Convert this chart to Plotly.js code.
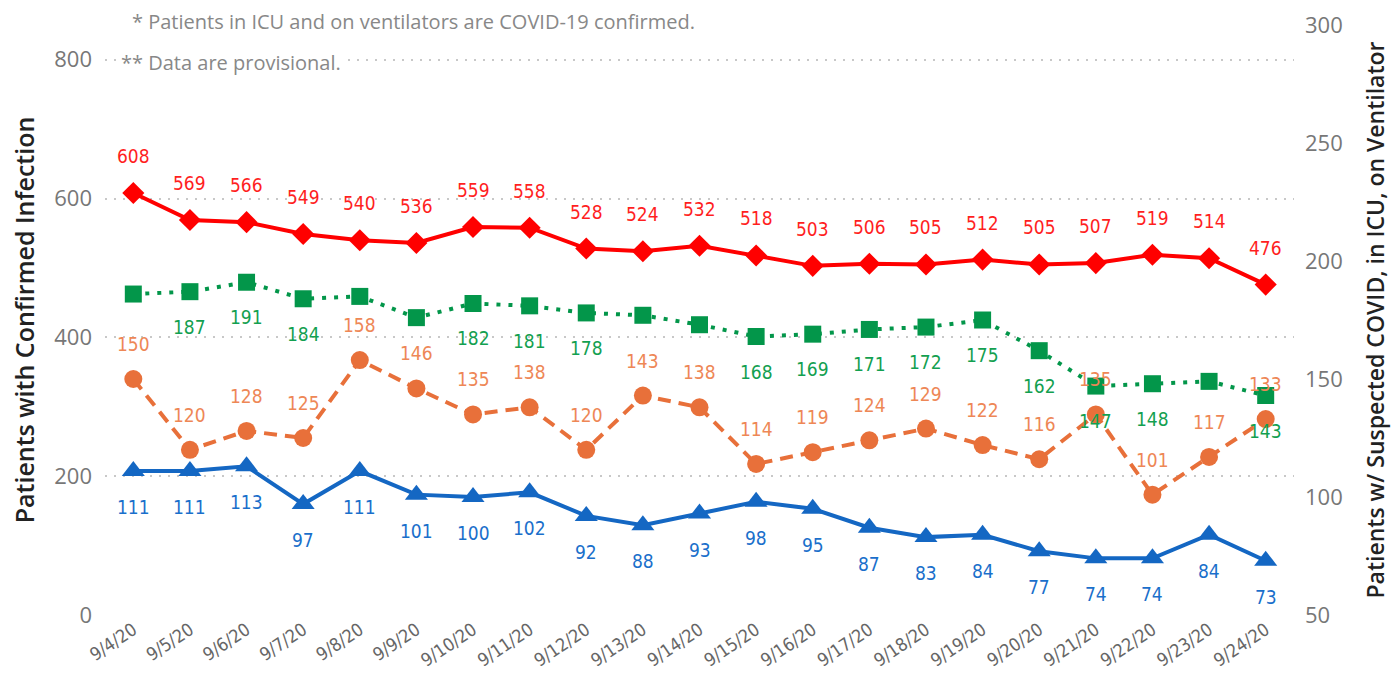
<!DOCTYPE html>
<html>
<head>
<meta charset="utf-8">
<script src="https://cdn.plot.ly/plotly-3.0.1.min.js"></script>
<style>html,body{margin:0;padding:0;background:#fff;}#chart{width:1393px;height:675px;}</style>
</head>
<body>
<div id="chart"></div>
<script>
const dates = ['9/4/20','9/5/20','9/6/20','9/7/20','9/8/20','9/9/20','9/10/20','9/11/20','9/12/20','9/13/20','9/14/20','9/15/20','9/16/20','9/17/20','9/18/20','9/19/20','9/20/20','9/21/20','9/22/20','9/23/20','9/24/20'];
const confirmed = [608,569,566,549,540,536,559,558,528,524,532,518,503,506,505,512,505,507,519,514,476];
const suspected = [186,187,191,184,185,176,182,181,178,177,173,168,169,171,172,175,162,147,148,149,143];
const icu = [150,120,128,125,158,146,135,138,120,143,138,114,119,124,129,122,116,135,101,117,133];
const ventilator = [111,111,113,97,111,101,100,102,92,88,93,98,95,87,83,84,77,74,74,84,73];
// labels not drawn in the original (overlap hidden)
const suspectedHiddenLabels = ['9/4/20','9/8/20','9/9/20','9/13/20','9/14/20','9/23/20'];
const noteLines = ['* Patients in ICU and on ventilators are COVID-19 confirmed.', '** Data are provisional.'];

const RED = '#FF0000', GREEN = '#03964A', ORANGE = '#E8703A', BLUE = '#1467C3';
const labelFont = 'DejaVu Sans Condensed, DejaVu Sans, sans-serif';

const traces = [
  {x: dates, y: icu, yaxis: 'y2', name: 'ICU', mode: 'lines+markers',
   line: {color: ORANGE, width: 4, dash: '13px,8px'}, marker: {symbol: 'circle', size: 18, color: ORANGE}},
  {x: dates, y: ventilator, yaxis: 'y2', name: 'Ventilator', mode: 'lines+markers',
   line: {color: BLUE, width: 4}, marker: {symbol: 'triangle-up', size: 20, color: BLUE}},
  {x: dates, y: suspected, yaxis: 'y2', name: 'Suspected', mode: 'lines+markers',
   line: {color: GREEN, width: 4, dash: '4px,8px'}, marker: {symbol: 'square', size: 17, color: GREEN}},
  {x: dates, y: confirmed, yaxis: 'y', name: 'Confirmed', mode: 'lines+markers',
   line: {color: RED, width: 4}, marker: {symbol: 'diamond', size: 17, color: RED}}
];

const annotations = [];
function addLabels(vals, yref, color, shift, hidden) {
  vals.forEach((v, i) => {
    if (hidden && hidden.includes(dates[i])) return;
    annotations.push({x: dates[i], y: v, xref: 'x', yref: yref, text: String(v), showarrow: false,
      yshift: shift, font: {family: labelFont, size: 19, color: color}});
  });
}
addLabels(confirmed, 'y', '#FF1F1F', 37);
addLabels(suspected, 'y2', '#13A050', -35, suspectedHiddenLabels);
addLabels(icu, 'y2', '#EE8756', 35);
addLabels(ventilator, 'y2', '#1A6FCB', -36);

annotations.push({xref: 'paper', yref: 'paper', x: (130-105)/1189, y: (615-22)/590, xanchor: 'left', yanchor: 'middle',
  text: noteLines[0], showarrow: false, font: {family: 'Open Sans, sans-serif', size: 20, color: '#888'}});
annotations.push({xref: 'paper', yref: 'paper', x: (119-105)/1189, y: (615-62)/590, xanchor: 'left', yanchor: 'middle',
  text: noteLines[1], showarrow: false, bgcolor: '#fff', font: {family: 'Open Sans, sans-serif', size: 20, color: '#888'}});

const layout = {
  width: 1393, height: 675,
  margin: {l: 105, r: 99, t: 25, b: 60},
  paper_bgcolor: '#fff', plot_bgcolor: '#fff',
  showlegend: false,
  xaxis: {type: 'category', range: [-0.5, 20.5], tickangle: -34, automargin: false,
    showgrid: false, zeroline: false, showline: false, ticks: '',
    tickfont: {family: labelFont, size: 18, color: '#666'}},
  yaxis: {range: [0, 850], tickvals: [0,200,400,600,800], automargin: false,
    showgrid: true, gridcolor: '#c8c8c8', gridwidth: 2, griddash: '2px,7px', zeroline: false, showline: false,
    ticklabelstandoff: 12,
    tickfont: {family: 'Open Sans, sans-serif', size: 22, color: '#777'},
    title: {text: 'Patients with Confirmed Infection', standoff: 12,
      font: {family: 'Open Sans, sans-serif', size: 25, color: '#222', weight: 600}}},
  yaxis2: {range: [50, 300], dtick: 50, overlaying: 'y', side: 'right', automargin: false,
    showgrid: false, zeroline: false, showline: false, ticklabelstandoff: 10,
    tickfont: {family: 'Open Sans, sans-serif', size: 22, color: '#777'},
    title: {text: 'Patients w/ Suspected COVID, in ICU, on Ventilator', standoff: 26,
      font: {family: 'Open Sans, sans-serif', size: 23, color: '#222', weight: 600}}},
  annotations: annotations
};

Plotly.newPlot('chart', traces, layout, {displayModeBar: false, staticPlot: true});
</script>
</body>
</html>
